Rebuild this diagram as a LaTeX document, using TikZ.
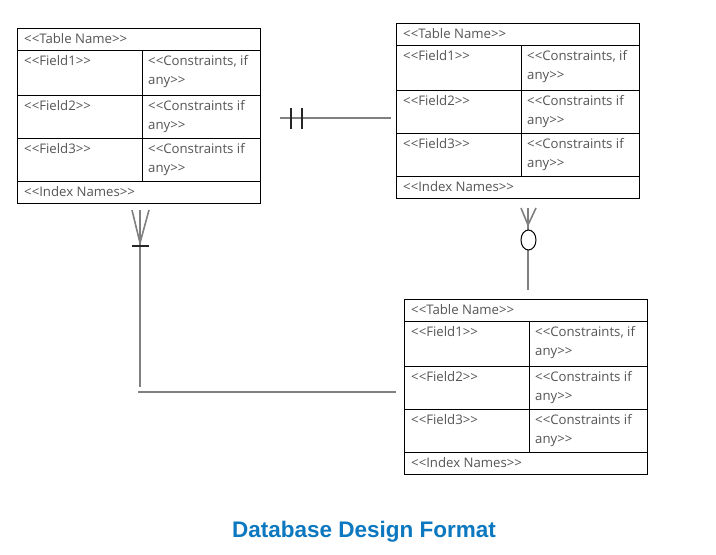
\documentclass[tikz,border=0pt]{standalone}
\usepackage{fontspec}
\usetikzlibrary{calc}
\newfontfamily\tblfont{Open Sans}[Ligatures=TeXOff]
\newfontfamily\titlefont{Liberation Sans}
\definecolor{txtgray}{HTML}{555555}
\definecolor{linegray}{HTML}{808080}
\definecolor{titleblue}{HTML}{0B78C0}
\tikzset{
  tablebox/.style={draw=black, line width=1pt, inner sep=0pt, minimum width=243pt, minimum height=175pt, anchor=north west},
  grid/.style={draw=black, line width=1pt},
  txt/.style={font=\tblfont\fontsize{13.2}{15}\selectfont, text=txtgray, inner sep=0pt, anchor=base west},
  conn/.style={draw=linegray, line width=1.6pt},
  tick/.style={draw=black!85, line width=1.5pt},
}
\newcommand\dbtable[3]{%
  \node[tablebox] (#1) at (#2,#3) {};
  \draw[grid] ($(#1.north west)+(0,22)$) -- ($(#1.north east)+(0,22)$);
  \draw[grid] ($(#1.north west)+(0,67)$) -- ($(#1.north east)+(0,67)$);
  \draw[grid] ($(#1.north west)+(0,110)$) -- ($(#1.north east)+(0,110)$);
  \draw[grid] ($(#1.north west)+(0,153)$) -- ($(#1.north east)+(0,153)$);
  \draw[grid] ($(#1.north west)+(125,22)$) -- ($(#1.north west)+(125,153)$);
  \node[txt] at ($(#1.north west)+(7,15)$) {<<Table Name>>};
  \node[txt] at ($(#1.north west)+(7,37)$) {<<Field1>>};
  \node[txt] at ($(#1.north west)+(131,37)$) {<<Constraints, if};
  \node[txt] at ($(#1.north west)+(131,56)$) {any>>};
  \node[txt] at ($(#1.north west)+(7,82)$) {<<Field2>>};
  \node[txt] at ($(#1.north west)+(131,82)$) {<<Constraints if};
  \node[txt] at ($(#1.north west)+(131,101)$) {any>>};
  \node[txt] at ($(#1.north west)+(7,125)$) {<<Field3>>};
  \node[txt] at ($(#1.north west)+(131,125)$) {<<Constraints if};
  \node[txt] at ($(#1.north west)+(131,144)$) {any>>};
  \node[txt] at ($(#1.north west)+(7,168)$) {<<Index Names>>};
}
\begin{document}
\begin{tikzpicture}[x=1pt,y=-1pt]
\fill[white] (0,0) rectangle (716,555);
\useasboundingbox (0,0) rectangle (716,555);

\dbtable{ta}{17}{28}
\dbtable{tb}{396}{23}
\dbtable{tc}{404}{299}

% connector A -- B (one and only one)
\coordinate (ab1) at (280,118);
\coordinate (ab2) at (391,118);
\draw[conn] (ab1) -- (ab2);
\draw[tick] (291,108) -- (291,129);
\draw[tick] (302,108) -- (302,129);

% connector A -- C (one or many)
\coordinate (ac0) at (140,210);
\coordinate (acL) at (132,210);
\coordinate (acR) at (149,210);
\coordinate (acJ) at (140,243);
\coordinate (ac1) at (140,387);
\coordinate (ac2) at (138,392);
\coordinate (ac3) at (396,392);
\draw[conn] (ac0) -- (ac1);
\draw[conn] (acL) -- (acJ) -- (acR);
\draw[tick, line width=2pt] (132,246) -- (149,246);
\draw[conn] (ac2) -- (ac3);

% connector B -- C (zero or many)
\coordinate (bc0) at (528,208);
\coordinate (bcL) at (521,208);
\coordinate (bcR) at (536,208);
\coordinate (bcJ) at (528,225);
\coordinate (bc1) at (528,290);
\draw[conn] (bc0) -- (bc1);
\draw[conn] (bcL) -- (bcJ) -- (bcR);
\fill[white] (528.5,240) ellipse [x radius=7.5, y radius=10];
\draw[black, line width=1pt] (528.5,240) ellipse [x radius=7.5, y radius=10];

\node[font=\titlefont\bfseries\fontsize{22.5}{26}\selectfont, text=titleblue, inner sep=0pt] (title) at (364,532) {Database Design Format};
\end{tikzpicture}
\end{document}
